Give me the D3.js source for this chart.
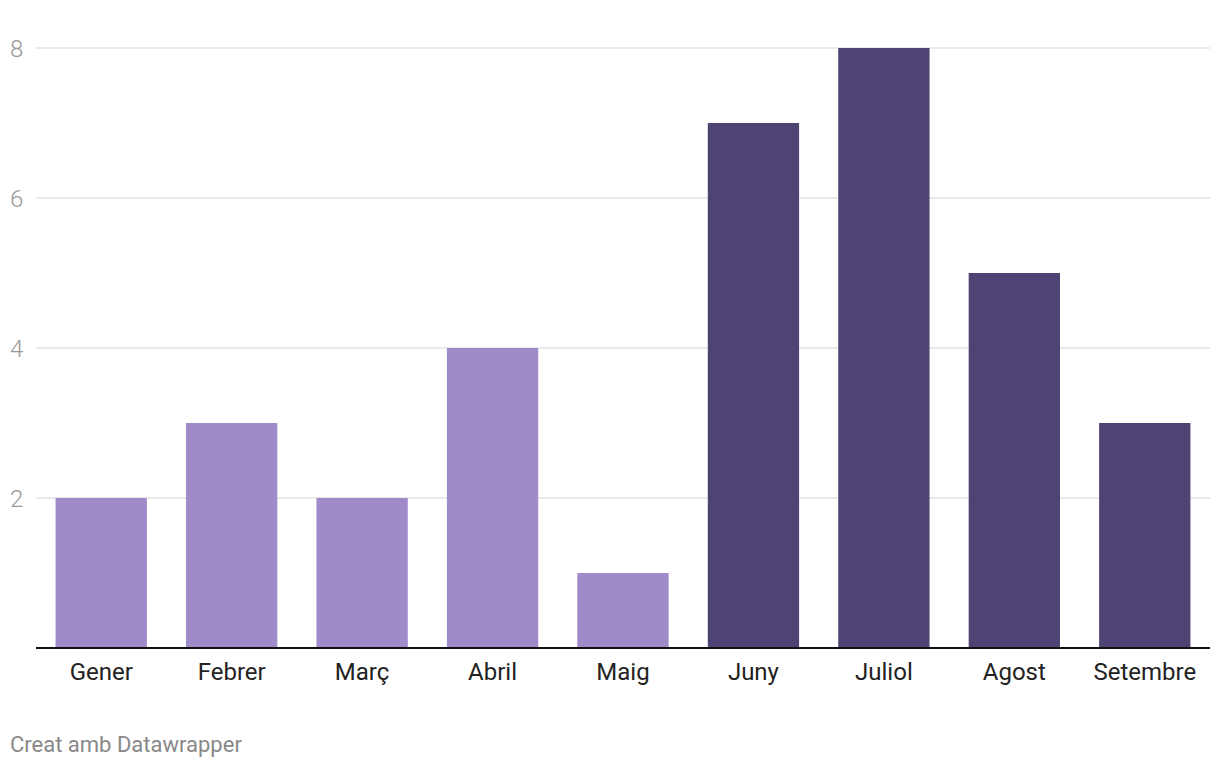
<!DOCTYPE html>
<html><head><meta charset="utf-8">
<script src="https://cdn.jsdelivr.net/npm/d3@7"></script>
<style>body{margin:0;background:#fff;font-family:Roboto,sans-serif}</style>
</head><body><svg id="c" width="1220" height="768"></svg>
<script>
const categories = ["Gener","Febrer","Març","Abril","Maig","Juny","Juliol","Agost","Setembre"];
const values = [2,3,2,4,1,7,8,5,3];
const groups = ["a","a","a","a","a","b","b","b","b"];
const yTicks = [2,4,6,8];
const colors = {a:"#a08bca", b:"#4e4372"};

const svg = d3.select("#c");
const x = d3.scaleBand().domain(categories).range([36,1210]).paddingInner(0.3).paddingOuter(0.15);
const y = d3.scaleLinear().domain([0,8]).range([648,48]);

const g = svg.append("g");
g.selectAll("line.grid").data(yTicks).join("line")
  .attr("x1",36).attr("x2",1210).attr("y1",d=>y(d)).attr("y2",d=>y(d))
  .attr("stroke","#e3e3e3").attr("stroke-width",1.5);
g.selectAll("text.yt").data(yTicks).join("text")
  .attr("x",10).attr("y",d=>y(d)).attr("dy","0.36em")
  .attr("font-size",24).attr("font-weight",300).attr("fill","#999").text(d=>d);

g.selectAll("rect").data(categories).join("rect")
  .attr("x",d=>x(d)).attr("width",x.bandwidth())
  .attr("y",(d,i)=>y(values[i])).attr("height",(d,i)=>y(0)-y(values[i]))
  .attr("fill",(d,i)=>colors[groups[i]]);

g.append("line").attr("x1",36).attr("x2",1210).attr("y1",y(0)).attr("y2",y(0))
  .attr("stroke","#111").attr("stroke-width",2);

g.selectAll("text.xt").data(categories).join("text")
  .attr("x",d=>x(d)+x.bandwidth()/2).attr("y",680).attr("text-anchor","middle")
  .attr("font-size",24).attr("fill","#222").text(d=>d);

svg.append("text").attr("x",10).attr("y",752).attr("font-size",22).attr("fill","#888").text("Creat amb Datawrapper");
</script></body></html>
